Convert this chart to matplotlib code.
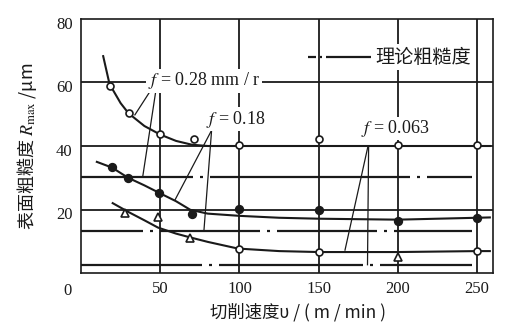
import numpy as np
import matplotlib
matplotlib.use("Agg")
import matplotlib.pyplot as plt
from matplotlib.transforms import ScaledTranslation

plt.rcParams['font.family'] = ['Liberation Serif', 'DejaVu Serif']
plt.rcParams['mathtext.fontset'] = 'stix'
plt.rcParams['lines.scale_dashes'] = False

cjk = ['Noto Sans CJK SC', 'DejaVu Sans']
ink = '#1a1a1a'

# measured points
v_028 = [18, 30, 50, 71, 100, 150, 200, 250]
r_028 = [59, 50.3, 43.8, 42.2, 40.2, 42.2, 40.3, 40.3]
v_018 = [19.6, 29.7, 49.5, 70, 100, 150, 200, 250]
r_018 = [33.4, 30, 25.2, 18.7, 20.3, 19.8, 16.5, 17.3]
v_0063_tri = [27.8, 48.6, 68.8, 200]
r_0063_tri = [18.9, 17.5, 11, 5]
v_0063_circ = [100, 150, 250]
r_0063_circ = [7.6, 6.6, 6.9]

# fitted curves
cv_028 = [14, 18, 25, 30, 40, 50, 60, 70, 80, 258]
cr_028 = [68.3, 59.5, 53.5, 50.3, 46.3, 43.6, 41.6, 40.4, 40, 40]
cv_018 = [10, 19.6, 29.7, 40, 49.5, 60, 69, 80, 100, 125, 150, 200, 250, 258]
cr_018 = [35, 33.2, 30, 27.6, 25.2, 22.6, 19.9, 18.7, 18, 17.4, 17.1, 16.8, 17.4, 17.5]
cv_0063 = [20, 30, 40, 48.6, 60, 69, 80, 99, 125, 150, 200, 250, 258]
cr_0063 = [22, 19.2, 16.6, 14.3, 12.4, 11.2, 9.8, 7.7, 6.9, 6.6, 6.6, 6.9, 6.9]

# theoretical roughness (dash-dot)
theory_r = [30.2, 13.1, 2.4]
theory_end = 247

fig = plt.figure(figsize=(5.24, 3.33), dpi=100)
ax = fig.add_axes([81 / 524, 1 - 273 / 333, 412 / 524, 254 / 333])
ax.set_xlim(0, 260)
ax.set_ylim(0, 80)

for s in ax.spines.values():
    s.set_color(ink)
    s.set_linewidth(1.2)

ax.set_xticks([50, 100, 150, 200, 250])
ax.set_yticks([20, 40, 60, 80])
ax.tick_params(length=0, labelsize=12, colors=ink, pad=6)
shift = ScaledTranslation(0, -4 / 100, fig.dpi_scale_trans)
for lab in ax.get_yticklabels():
    lab.set_transform(lab.get_transform() + shift)
for y in [20, 40, 60]:
    ax.axhline(y, color=ink, lw=1.3, zorder=1)
for x in [50, 100, 150, 200, 250]:
    ax.axvline(x, color=ink, lw=1.3, zorder=1)

# theoretical lines
px = 0.72
dash_sets = [
    (88 * px, (200 * px, 7 * px, 3 * px, 7 * px)),
    (38 * px, (100 * px, 7 * px, 3 * px, 7 * px)),
    (23 * px, (144 * px, 7 * px, 3 * px, 7 * px)),
]
for r, ds in zip(theory_r, dash_sets):
    ax.plot([0, theory_end], [r, r], color=ink, lw=1.6, linestyle=ds, zorder=2)

# curves
ax.plot(cv_028, cr_028, color=ink, lw=1.5, zorder=3)
ax.plot(cv_018, cr_018, color=ink, lw=1.5, zorder=3)
ax.plot(cv_0063, cr_0063, color=ink, lw=1.5, zorder=3)

mk = dict(color=ink, linestyle='none', zorder=4, markeredgewidth=1.2)
ax.plot(v_028, r_028, marker='o', markersize=5, markerfacecolor='white', **mk)
ax.plot(v_018, r_018, marker='o', markersize=5.5, markerfacecolor=ink, **mk)
ax.plot(v_0063_tri, r_0063_tri, marker='^', markersize=6, markerfacecolor='white', **mk)
ax.plot(v_0063_circ, r_0063_circ, marker='o', markersize=5, markerfacecolor='white', **mk)

# labels with leader lines
box = dict(facecolor='white', edgecolor='none', pad=1)
ax.text(42, 60.5, '$f$ = 0.28 mm / r', fontsize=13, color=ink, va='center', ha='left',
        bbox=box, zorder=5)
ax.text(79, 48.5, '$f$ = 0.18', fontsize=13, color=ink, va='center', ha='left',
        bbox=box, zorder=5)
ax.text(177, 45.5, '$f$ = 0.063', fontsize=13, color=ink, va='center', ha='left',
        bbox=box, zorder=5)

leaders = [
    ((45, 58.3), (34, 49.8)),
    ((47.5, 58.3), (39, 30.5)),
    ((83, 45.5), (59.3, 23)),
    ((82.5, 45.5), (77.6, 13.5)),
    ((181, 39.7), (166.6, 7.2)),
    ((181.5, 39.7), (180.8, 2.6)),
]
for (x0, y0), (x1, y1) in leaders:
    ax.plot([x0, x1], [y0, y1], color=ink, lw=0.9, zorder=3)

# legend
ax.plot([143, 183], [68, 68], color=ink, lw=1.6,
        linestyle=(0, (8 * px, 4 * px, 2 * px, 4 * px, 60 * px, 4 * px)), zorder=5)
ax.text(185.5, 68, '理论粗糙度', family=cjk, fontsize=13.8, color=ink, va='center', ha='left',
        bbox=dict(facecolor='white', edgecolor='none', pad=2), zorder=5)

fig.text(68 / 524, 1 - 291 / 333, '0', fontsize=12, color=ink, ha='center', va='center')
fig.text(298 / 524, 1 - 312 / 333, '切削速度υ / ( m / min )', family=cjk, fontsize=12.5,
         color=ink, ha='center', va='center')
fig.text(27 / 524, 1 - 146 / 333, '表面粗糙度 $R_{\\mathrm{max}}$ /μm', family=cjk, fontsize=13,
         color=ink, ha='center', va='center', rotation=90)

fig.savefig('out.png', dpi=100)
